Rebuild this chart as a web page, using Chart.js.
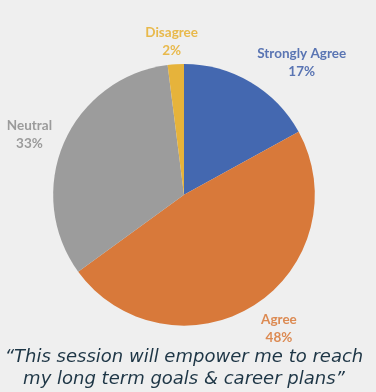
<!DOCTYPE html>
<html>
<head>
<meta charset="utf-8">
<script src="https://cdn.jsdelivr.net/npm/chart.js@4.4.1/dist/chart.umd.min.js"></script>
<style>
  html, body { margin: 0; padding: 0; background: #efefef; }
  #wrap { width: 376px; height: 392px; }
</style>
</head>
<body>
<div id="wrap"><canvas id="surveyPie"></canvas></div>
<script>
const categories = ['Strongly Agree', 'Agree', 'Neutral', 'Disagree'];
const percents = [17, 48, 33, 2];
const sliceColors = ['#4468b0', '#d8793a', '#9c9c9c', '#e6b33b'];
const labelColors = ['#5a75b3', '#dc8a52', '#9b9b9b', '#e8b94c'];
const titleLines = ['\u201cThis session will empower me to reach', 'my long term goals & career plans\u201d'];

// draws "Name / NN%" outside each slice, roughly like the Excel outside-end labels
const outsideLabels = {
    id: 'outsideLabels',
    afterDatasetsDraw(chart) {
        const ctx = chart.ctx;
        const meta = chart.getDatasetMeta(0);
        const gap = 13;
        const lineH = 18;
        const clamp = v => Math.max(-1, Math.min(1, v * 2));
        ctx.save();
        ctx.font = 'bold 13.5px Lato';
        ctx.textAlign = 'center';
        ctx.textBaseline = 'middle';
        meta.data.forEach((arc, i) => {
            const mid = (arc.startAngle + arc.endAngle) / 2;
            const cx = Math.cos(mid), cy = Math.sin(mid);
            const px = arc.x + (arc.outerRadius + gap) * cx;
            const py = arc.y + (arc.outerRadius + gap) * cy;
            const lines = [categories[i], percents[i] + '%'];
            const w = Math.max(...lines.map(t => ctx.measureText(t).width));
            const bx = px + w / 2 * clamp(cx);
            const by = py + 12 * cy + 2;
            ctx.fillStyle = labelColors[i];
            ctx.fillText(lines[0], bx, by - lineH / 2);
            ctx.fillText(lines[1], bx, by + lineH / 2);
        });
        ctx.restore();
    }
};

const ctx = document.getElementById('surveyPie').getContext('2d');
const surveyPie = new Chart(ctx, {
    type: 'pie',
    data: {
        labels: categories,
        datasets: [{
            data: percents,
            backgroundColor: sliceColors,
            borderWidth: 0
        }]
    },
    options: {
        responsive: true,
        maintainAspectRatio: false,
        animation: false,
        layout: {
            padding: { left: 0, right: 8, top: 64, bottom: 1 }
        },
        plugins: {
            legend: { display: false },
            tooltip: { enabled: false },
            title: {
                display: true,
                position: 'bottom',
                text: titleLines,
                color: '#1e3646',
                font: { family: 'DejaVu Sans', size: 18, style: 'italic', weight: 'normal', lineHeight: 1.26 },
                padding: { top: 20, bottom: 0 }
            }
        }
    },
    plugins: [outsideLabels]
});
</script>
</body>
</html>
